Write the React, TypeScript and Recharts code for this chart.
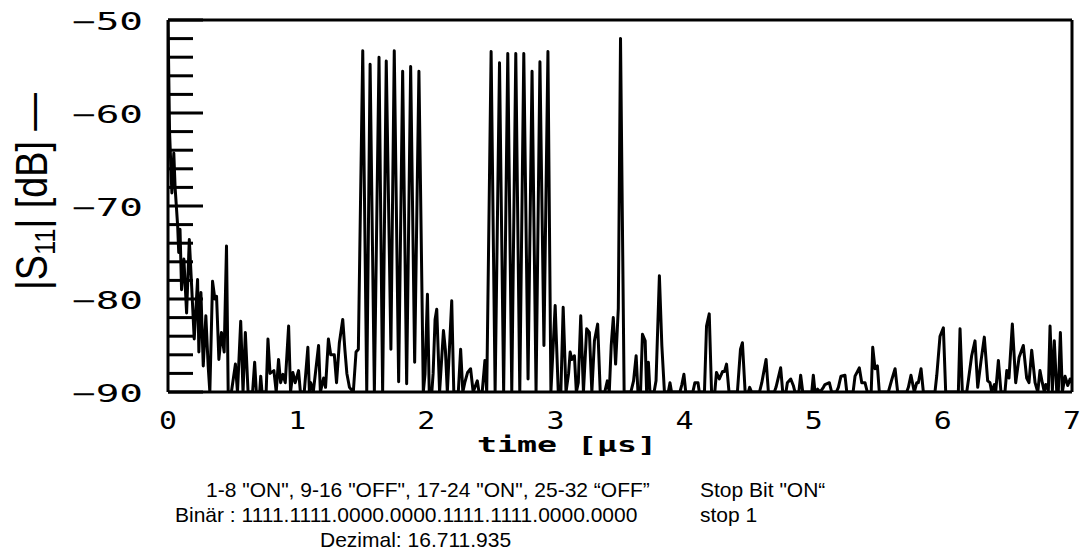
import React from 'react';
import { LineChart, Line, XAxis, YAxis, ReferenceLine } from 'recharts';

// time [µs] / |S11| [dB] samples
const noiseStart: [number, number][] = [
  [0, -50], [0.012, -62], [0.03, -68.6], [0.045, -64.3], [0.055, -68], [0.075, -72.2], [0.083, -75],
  [0.093, -72.5], [0.105, -79], [0.123, -75.7], [0.144, -81.5], [0.165, -73.6], [0.183, -78.6],
  [0.203, -84.3], [0.229, -77.9], [0.239, -85.7], [0.255, -79.3], [0.273, -87.2], [0.293, -81.8],
  [0.311, -87.2], [0.324, -90], [0.345, -78.1], [0.363, -80], [0.376, -79.7], [0.394, -86.5],
  [0.414, -83.6], [0.435, -85.7], [0.453, -74.3], [0.466, -90], [0.491, -90], [0.522, -87],
  [0.538, -90], [0.563, -82.4], [0.581, -90], [0.599, -83.6], [0.62, -90], [0.655, -90],
  [0.671, -86.8], [0.684, -90], [0.71, -90], [0.718, -88.3], [0.728, -90], [0.76, -90],
  [0.774, -84.3], [0.79, -88], [0.82, -87.7], [0.838, -90], [0.856, -86.5], [0.872, -89],
  [0.89, -88.1], [0.908, -89], [0.934, -82.9], [0.949, -90], [0.967, -87.9], [0.985, -89],
];

const noiseBeforeBurst1: [number, number][] = [
  [1.011, -87.7], [1.025, -90], [1.055, -90], [1.083, -85.2], [1.095, -90], [1.105, -89],
  [1.125, -90], [1.166, -85.0], [1.18, -90], [1.205, -88.5], [1.22, -89.5], [1.242, -84.3],
  [1.26, -86], [1.288, -86], [1.305, -89], [1.327, -84.7], [1.353, -82.2], [1.37, -85.5],
  [1.385, -88], [1.405, -89.5], [1.435, -90], [1.456, -85.7], [1.474, -85.4],
];

const burst1: [number, number][] = [
  [1.508, -53.3], [1.539, -90], [1.565, -54.75], [1.598, -90], [1.634, -54.0], [1.662, -90],
  [1.69, -54.4], [1.726, -85.4], [1.752, -53.3], [1.786, -88.9], [1.817, -55.5], [1.848, -89.1],
  [1.879, -55.0], [1.91, -86.8], [1.943, -55.5], [1.977, -90],
];

const noiseBetweenBursts: [number, number][] = [
  [1.99, -88.1], [2.009, -79.5], [2.023, -90], [2.043, -90], [2.053, -88], [2.068, -82.2],
  [2.081, -81.1], [2.103, -90], [2.133, -83.4], [2.148, -85.5], [2.163, -90], [2.197, -80.2],
  [2.213, -90], [2.248, -90], [2.266, -85.4], [2.283, -90], [2.298, -89], [2.32, -87.9],
  [2.343, -87.5], [2.363, -90], [2.395, -88.8], [2.408, -90], [2.433, -90], [2.454, -86.6],
  [2.468, -90],
];

const burst2: [number, number][] = [
  [2.502, -53.4], [2.533, -90], [2.567, -54.6], [2.599, -90], [2.631, -53.6], [2.662, -90],
  [2.693, -53.6], [2.724, -90], [2.755, -53.6], [2.788, -88.6], [2.819, -55.5], [2.85, -90],
  [2.88, -54.5], [2.911, -85], [2.942, -53.4], [2.965, -90],
];

const noiseBeforeStop: [number, number][] = [
  [2.998, -80.7], [3.022, -90], [3.042, -90], [3.06, -80.9], [3.082, -90], [3.102, -88],
  [3.114, -85.7], [3.127, -86.5], [3.147, -86.1], [3.162, -90], [3.177, -89], [3.196, -81.8],
  [3.217, -90], [3.242, -83.2], [3.263, -83.6], [3.282, -90], [3.302, -84.5], [3.327, -82.7],
  [3.347, -90], [3.382, -90], [3.402, -88.8], [3.417, -90], [3.432, -85], [3.448, -82.0],
  [3.466, -87], [3.487, -81],
];

const stopBit: [number, number][] = [
  [3.504, -52.0], [3.532, -90],
];

const noiseAfterStop: [number, number][] = [
  [3.584, -90], [3.605, -88.8], [3.625, -86.1], [3.639, -90], [3.659, -90], [3.674, -83.8],
  [3.695, -84.5], [3.706, -90], [3.72, -86.8], [3.732, -90], [3.764, -90], [3.779, -88.8],
  [3.805, -77.5], [3.824, -85], [3.844, -90], [3.874, -90], [3.887, -89.0], [3.899, -90],
  [3.964, -90], [3.979, -89.2], [3.995, -88.1], [4.009, -90], [4.064, -90], [4.08, -89],
  [4.104, -89], [4.114, -90], [4.154, -90], [4.17, -82.9], [4.191, -81.6], [4.209, -90],
  [4.234, -90], [4.247, -87.9], [4.269, -88.6], [4.294, -87.8], [4.309, -87.8], [4.325, -87.0],
  [4.344, -90], [4.409, -90], [4.433, -85.4], [4.448, -84.7], [4.469, -90], [4.494, -90],
  [4.504, -89.5], [4.519, -90],
];

const noiseMid: [number, number][] = [
  [4.58, -90], [4.598, -89], [4.631, -86.5], [4.649, -90], [4.695, -90], [4.708, -89.5],
  [4.744, -87.4], [4.76, -90], [4.785, -90], [4.796, -89], [4.822, -88.6], [4.842, -89.3],
  [4.855, -90], [4.885, -90], [4.899, -88.2], [4.915, -90], [4.985, -90], [4.997, -88.2],
  [5.01, -90], [5.03, -89.7], [5.05, -90], [5.075, -89.5], [5.087, -89.2], [5.121, -89],
  [5.139, -90], [5.175, -90], [5.191, -89.5], [5.211, -88.3], [5.242, -88.2], [5.256, -90],
  [5.305, -90], [5.32, -88.3], [5.353, -87.4], [5.372, -89], [5.397, -89], [5.415, -90],
  [5.445, -90], [5.457, -85.2], [5.475, -87.5], [5.493, -87.2], [5.508, -90],
];

const noiseEnd: [number, number][] = [
  [5.578, -90], [5.604, -88.7], [5.63, -87.5], [5.65, -90], [5.72, -90], [5.733, -89.5],
  [5.753, -88.2], [5.779, -90], [5.798, -89], [5.81, -89], [5.831, -87.5], [5.849, -90],
  [5.939, -90], [5.953, -88.2], [5.978, -84.0], [6.004, -83.1], [6.022, -90], [6.12, -90],
  [6.133, -83.2], [6.151, -90], [6.185, -90], [6.197, -88.8], [6.223, -86.1], [6.249, -84.5],
  [6.27, -89.5], [6.295, -86.7], [6.321, -84.1], [6.347, -88.8], [6.365, -89], [6.378, -90],
  [6.399, -89.2], [6.409, -90], [6.43, -86.6], [6.45, -90], [6.481, -90], [6.495, -87.7],
  [6.512, -88.5], [6.538, -82.7], [6.564, -89], [6.59, -86.3], [6.623, -85.0], [6.649, -88.5],
  [6.667, -89], [6.688, -85.5], [6.714, -89], [6.735, -90], [6.752, -87.7], [6.77, -89],
  [6.786, -90], [6.797, -89.2], [6.817, -89.8], [6.83, -82.9], [6.848, -89.8], [6.863, -84.5],
  [6.882, -90], [6.894, -90], [6.91, -83.6], [6.925, -90], [6.946, -88.3], [6.967, -89.3],
  [6.985, -88.6], [7.0, -89],
];

const xTicks = [0, 1, 2, 3, 4, 5, 6, 7];
const yTicks = [-90, -88, -86, -84, -82, -80, -78, -76, -74, -72, -70, -68, -66, -64, -62, -60, -58, -56, -54, -52, -50];

const noteLine1 = '1-8 "ON", 9-16 "OFF", 17-24 "ON", 25-32 \u201COFF\u201D';
const noteLine1b = 'Stop Bit "ON\u201C';
const noteLine2 = 'Bin\u00E4r : 1111.1111.0000.0000.1111.1111.0000.0000';
const noteLine2b = 'stop 1';
const noteLine3 = 'Dezimal: 16.711.935';

const data = [
  ...noiseStart, ...noiseBeforeBurst1, ...burst1, ...noiseBetweenBursts, ...burst2,
  ...noiseBeforeStop, ...stopBit, ...noiseAfterStop, ...noiseMid, ...noiseEnd,
].map(([t, v]) => ({ t, v }));

const TICK_FONT = '"DejaVu Sans Mono", monospace';
const NOTE_FONT = '"Liberation Sans", Arial, sans-serif';

const YTick = (props: any) => {
  const { x, y, payload } = props;
  const v = payload.value as number;
  const major = Math.abs(v % 10) < 1e-9;
  return (
    <g>
      <line x1={x} x2={x + (major ? 35 : 25)} y1={y} y2={y} stroke="#000" strokeWidth={3} />
      {major && (
        <text
          x={x - 25}
          y={y + 10}
          textAnchor="end"
          fontFamily={TICK_FONT}
          fontSize={24}
          fill="#000"
          textLength={71}
          lengthAdjust="spacingAndGlyphs"
        >
          {`\u2212${Math.abs(v)}`}
        </text>
      )}
    </g>
  );
};

const XTick = (props: any) => {
  const { x, y, payload } = props;
  return (
    <text
      x={x}
      y={y + 37}
      textAnchor="middle"
      fontFamily={TICK_FONT}
      fontSize={24}
      fill="#000"
      textLength={18}
      lengthAdjust="spacingAndGlyphs"
    >
      {String(payload.value)}
    </text>
  );
};

export default function App() {
  return (
    <div style={{ position: 'absolute', left: 0, top: 0, width: 1086, height: 550, background: '#fff' }}>
      <LineChart
        width={1086}
        height={550}
        data={data}
        margin={{ top: 20, right: 14, left: 108, bottom: 118 }}
      >
        <XAxis
          dataKey="t"
          type="number"
          domain={[0, 7]}
          ticks={xTicks}
          interval={0}
          allowDataOverflow
          axisLine={{ stroke: '#000', strokeWidth: 3 }}
          tickLine={false}
          tickSize={0}
          tickMargin={0}
          height={40}
          tick={(p: any) => <XTick {...p} />}
        />
        <YAxis
          type="number"
          domain={[-90, -50]}
          ticks={yTicks}
          interval={0}
          allowDataOverflow
          width={60}
          axisLine={{ stroke: '#000', strokeWidth: 3 }}
          tickLine={false}
          tickSize={0}
          tickMargin={0}
          tick={(p: any) => <YTick {...p} />}
        />
        <ReferenceLine y={-50} stroke="#000" strokeWidth={3} />
        <ReferenceLine x={7} stroke="#000" strokeWidth={3} />
        <Line
          type="linear"
          dataKey="v"
          stroke="#000"
          strokeWidth={3}
          strokeLinejoin="round"
          strokeLinecap="round"
          dot={false}
          activeDot={false}
          isAnimationActive={false}
        />
      </LineChart>
      <svg
        width={1086}
        height={550}
        style={{ position: 'absolute', left: 0, top: 0, pointerEvents: 'none' }}
      >
        <text
          transform="translate(47, 290) rotate(-90)"
          fontFamily={NOTE_FONT}
          fontSize={44}
          fill="#000"
          textLength={197}
          lengthAdjust="spacingAndGlyphs"
        >
          |S<tspan dy={8} fontSize={30}>11</tspan>
          <tspan dy={-8}>| [dB] {'\u2014'}</tspan>
        </text>
        <text
          x={477}
          y={452}
          fontFamily={TICK_FONT}
          fontSize={21}
          fontWeight="bold"
          fill="#000"
          textLength={180}
          lengthAdjust="spacingAndGlyphs"
        >
          time [{'\u00B5'}s]
        </text>
        <g fontFamily={NOTE_FONT} fontSize={21} fill="#000">
          <text x={206} y={497}>{noteLine1}</text>
          <text x={700} y={497}>{noteLine1b}</text>
          <text x={175} y={522}>{noteLine2}</text>
          <text x={700} y={522}>{noteLine2b}</text>
          <text x={320} y={547}>{noteLine3}</text>
        </g>
      </svg>
    </div>
  );
}
